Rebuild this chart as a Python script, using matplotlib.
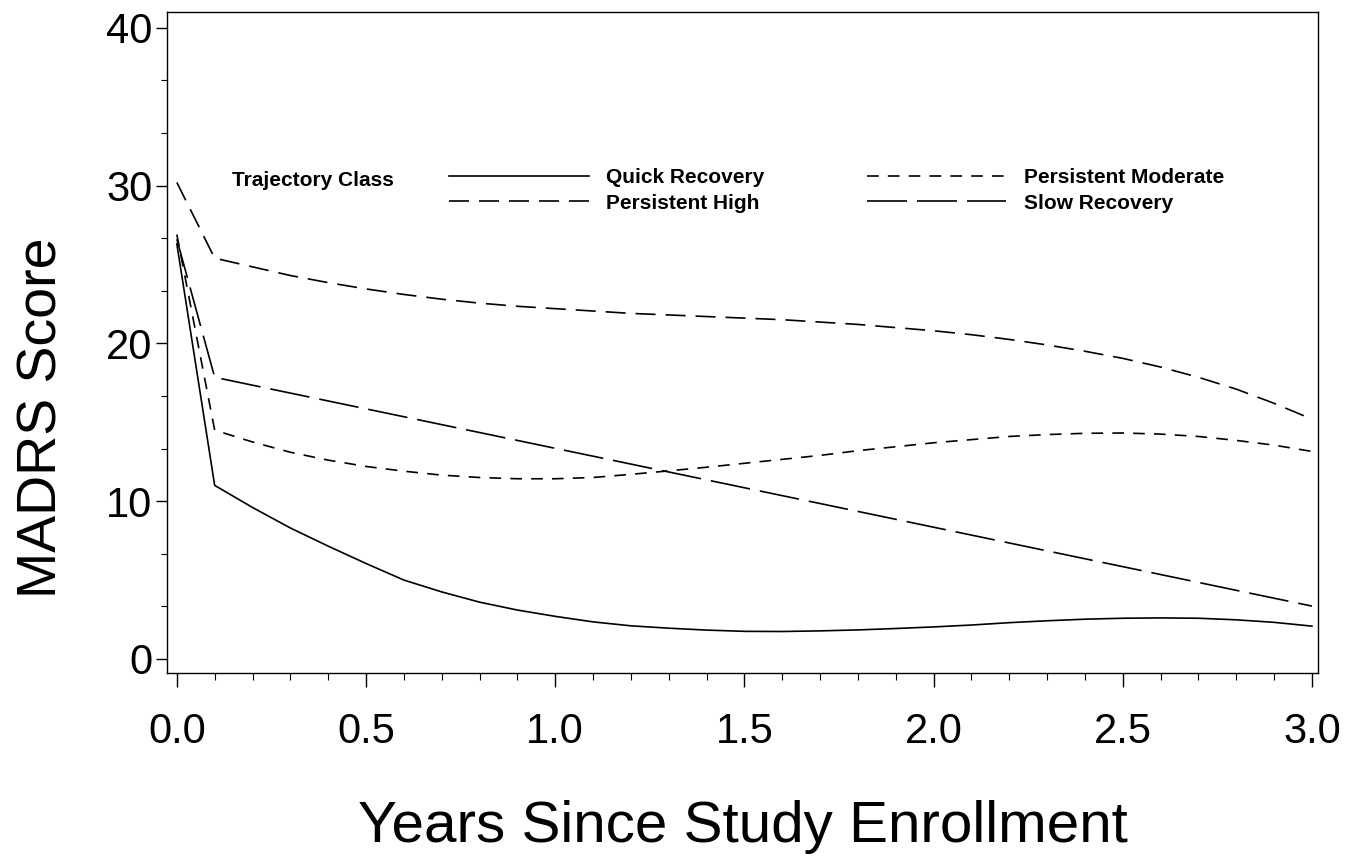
import matplotlib
matplotlib.use('Agg')
import matplotlib.pyplot as plt
from matplotlib.ticker import MultipleLocator, FixedLocator

# years since enrollment
years = [0.0, 0.1, 0.2, 0.3, 0.4, 0.5, 0.6, 0.7, 0.8, 0.9, 1.0,
         1.1, 1.2, 1.3, 1.4, 1.5, 1.6, 1.7, 1.8, 1.9, 2.0,
         2.1, 2.2, 2.3, 2.4, 2.5, 2.6, 2.7, 2.8, 2.9, 3.0]

# MADRS score by trajectory class
quick_recovery = [26.3, 11.0, 9.6, 8.3, 7.15, 6.05, 5.0, 4.25, 3.6, 3.1, 2.7,
                  2.35, 2.1, 1.95, 1.83, 1.75, 1.74, 1.78, 1.84, 1.93, 2.03,
                  2.15, 2.3, 2.42, 2.52, 2.58, 2.6, 2.58, 2.48, 2.32, 2.08]
persistent_high = [30.2, 25.4, 24.85, 24.3, 23.85, 23.45, 23.1, 22.8, 22.55, 22.35, 22.2,
                   22.05, 21.9, 21.8, 21.7, 21.6, 21.5, 21.35, 21.2, 21.0, 20.8,
                   20.55, 20.25, 19.9, 19.5, 19.05, 18.5, 17.85, 17.1, 16.2, 15.2]
persistent_moderate = [26.9, 14.5, 13.75, 13.1, 12.6, 12.2, 11.9, 11.65, 11.5, 11.42, 11.42,
                       11.5, 11.7, 11.92, 12.15, 12.4, 12.65, 12.9, 13.2, 13.45, 13.7,
                       13.9, 14.1, 14.22, 14.3, 14.32, 14.25, 14.1, 13.85, 13.55, 13.15]
slow_recovery = [26.6, 17.85, 17.35, 16.85, 16.35, 15.85, 15.35, 14.85, 14.35, 13.85, 13.35,
                 12.85, 12.35, 11.85, 11.35, 10.85, 10.35, 9.85, 9.35, 8.85, 8.35,
                 7.85, 7.35, 6.85, 6.35, 5.85, 5.35, 4.85, 4.35, 3.85, 3.35]

series_labels = ['Quick Recovery', 'Persistent High', 'Persistent Moderate', 'Slow Recovery']

FONT = ['Liberation Sans', 'DejaVu Sans']

fig = plt.figure(figsize=(13.53, 8.56), dpi=100)
ax = fig.add_axes([167/1353, 1 - 673/856, (1318 - 167)/1353, (673 - 12)/856])

lw = 1.2
ax.plot(years, quick_recovery, color='black', lw=lw, label=series_labels[0])
ax.plot(years, persistent_high, color='black', lw=lw, dashes=(12, 6), label=series_labels[1])
ax.plot(years, persistent_moderate, color='black', lw=lw, dashes=(7, 5.5), label=series_labels[2])
ax.plot(years, slow_recovery, color='black', lw=lw, dashes=(24, 6), label=series_labels[3])

ax.set_xlim(-0.026, 3.016)
ax.set_ylim(-0.89, 41.0)

ax.xaxis.set_minor_locator(MultipleLocator(0.1))
ax.yaxis.set_minor_locator(FixedLocator([10/3 * i for i in range(13)]))
ax.set_xticks([0, 0.5, 1.0, 1.5, 2.0, 2.5, 3.0])
ax.set_xticklabels(['0.0', '0.5', '1.0', '1.5', '2.0', '2.5', '3.0'], family=FONT, fontsize=30)
ax.set_yticks([0, 10, 20, 30, 40])
ax.set_yticklabels(['0', '10', '20', '30', '40'], family=FONT, fontsize=30)

ax.tick_params(axis='x', which='major', direction='out', length=10, width=1.0, pad=18)
ax.tick_params(axis='x', which='minor', direction='out', length=5, width=0.8)
ax.tick_params(axis='y', which='major', direction='out', length=8, width=1.0, pad=2.5)
ax.tick_params(axis='y', which='minor', direction='out', length=4, width=0.8)
for s in ax.spines.values():
    s.set_linewidth(1.0)

ax.set_xlabel('Years Since Study Enrollment', family=FONT, fontsize=42, va='center')
ax.xaxis.set_label_coords(0.5, -0.233)
ax.set_ylabel('MADRS Score', family=FONT, fontsize=40, va='center')
ax.yaxis.set_label_coords(-0.108, 0.386)

# legend
ax.text(232/1353, 1 - 181/856, 'Trajectory Class', transform=fig.transFigure,
        family=FONT, fontsize=15, fontweight='bold', va='center', ha='left')
leg = ax.legend(loc='upper left', bbox_to_anchor=(449/1353, 1 - 168/856),
                bbox_transform=fig.transFigure, ncol=2, frameon=False,
                prop={'family': FONT, 'size': 15, 'weight': 'bold'},
                handlelength=6.7, handletextpad=0.85, columnspacing=4.9,
                labelspacing=0.32, borderpad=0, borderaxespad=0)

fig.savefig('out.png', dpi=100)
